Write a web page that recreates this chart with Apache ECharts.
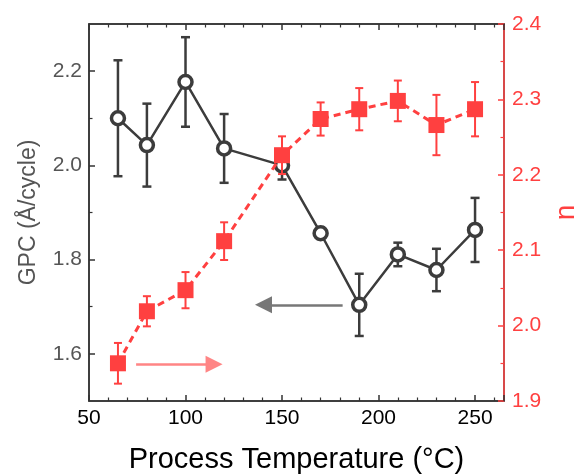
<!DOCTYPE html>
<html><head><meta charset="utf-8">
<script src="https://cdn.jsdelivr.net/npm/echarts@6/dist/echarts.min.js"></script>
<style>html,body{margin:0;padding:0;background:#fff}#c{width:574px;height:474px}</style>
</head><body><div id="c"></div>
<script>
const temps = [65, 80, 100, 120, 150, 170, 190, 210, 230, 250];
const gpc = [2.100, 2.043, 2.177, 2.036, 2.000, 1.856, 1.704, 1.811, 1.778, 1.863];
const gpcErr = [0.123, 0.088, 0.095, 0.073, 0.030, 0.012, 0.066, 0.025, 0.045, 0.068];
const nVals = [1.950, 2.019, 2.047, 2.112, 2.226, 2.274, 2.287, 2.298, 2.266, 2.287];
const nErr = [0.027, 0.020, 0.024, 0.025, 0.025, 0.022, 0.028, 0.027, 0.040, 0.036];
const xTicks = [50, 100, 150, 200, 250];
const gpcTicks = [1.6, 1.8, 2.0, 2.2];
const nTicks = [1.9, 2.0, 2.1, 2.2, 2.3, 2.4];
const grayArrow = [[181.4, 1.704], [140.4, 1.704]];
const pinkArrow = [[74.4, 1.578], [114.8, 1.578]];

const FONT = 'Liberation Sans';
const BLACK = '#3c3c3c';
const RED = '#ff4040';
const AX = '#333';

const BOX = { left: 89, right: 70, top: 24, bottom: 73 };
const GPC_MIN = 1.5, GPC_MAX = 2.3;
const pxPerGpc = (474 - BOX.top - BOX.bottom) / (GPC_MAX - GPC_MIN);

function errRender(color, lw, half) {
  return function (params, api) {
    const x = api.value(0), lo = api.value(1), hi = api.value(2);
    const a = api.coord([x, lo]), b = api.coord([x, hi]);
    const st = { stroke: color, lineWidth: lw, fill: null };
    return { type: 'group', children: [
      { type: 'line', shape: { x1: a[0], y1: a[1], x2: b[0], y2: b[1] }, style: st },
      { type: 'line', shape: { x1: a[0] - half, y1: a[1], x2: a[0] + half, y2: a[1] }, style: st },
      { type: 'line', shape: { x1: b[0] - half, y1: b[1], x2: b[0] + half, y2: b[1] }, style: st }
    ]};
  };
}

const major = c => ({ show: true, inside: true, length: 6, lineStyle: { color: c, width: 1.5 } });
const minor = (c, n) => ({ show: true, splitNumber: n, length: 3.5, lineStyle: { color: c, width: 1.2 } });

const chart = echarts.init(document.getElementById('c'), null, { renderer: 'canvas' });
chart.setOption({
  animation: false,
  backgroundColor: '#fff',
  textStyle: { fontFamily: FONT },
  grid: [
    Object.assign({ containLabel: false, outerBoundsMode: 'none', show: true, borderColor: AX, borderWidth: 1.5, backgroundColor: 'transparent' }, BOX),
    { left: BOX.left, right: BOX.right, containLabel: false, outerBoundsMode: 'none',
      top: BOX.top + (GPC_MAX - gpcTicks[gpcTicks.length - 1]) * pxPerGpc,
      bottom: BOX.bottom + (gpcTicks[0] - GPC_MIN) * pxPerGpc }
  ],
  xAxis: [
    {
      type: 'value', gridIndex: 0, position: 'bottom', min: 50, max: 265, interval: 50,
      splitLine: { show: false },
      name: 'Process Temperature (°C)', nameLocation: 'middle', nameGap: 44,
      nameTextStyle: { fontFamily: FONT, fontSize: 29, color: '#000' },
      axisLine: { show: true, onZero: false, lineStyle: { color: AX, width: 1.5 } },
      axisTick: major(AX), minorTick: minor(AX, 5),
      axisLabel: { show: true, customValues: xTicks, fontFamily: FONT, fontSize: 21, color: '#000', margin: 7 }
    },
    {
      type: 'value', gridIndex: 0, position: 'top', min: 50, max: 265, interval: 50,
      splitLine: { show: false },
      axisLine: { show: true, onZero: false, lineStyle: { color: AX, width: 1.5 } },
      axisTick: major(AX), minorTick: minor(AX, 5),
      axisLabel: { show: false }
    },
    { type: 'value', gridIndex: 1, min: 50, max: 265, show: false }
  ],
  yAxis: [
    {
      type: 'value', gridIndex: 0, position: 'left', min: GPC_MIN, max: GPC_MAX,
      splitLine: { show: false },
      name: 'GPC (Å/cycle)', nameLocation: 'middle', nameGap: 49, nameRotate: 90,
      nameTextStyle: { fontFamily: FONT, fontSize: 23, color: '#555' },
      axisLine: { show: true, onZero: false, lineStyle: { color: AX, width: 1.5 } },
      axisTick: { show: false },
      axisLabel: { show: true, customValues: gpcTicks, fontFamily: FONT, fontSize: 21, color: '#555', margin: 7,
        formatter: v => v.toFixed(1) }
    },
    {
      type: 'value', gridIndex: 0, position: 'right', min: 1.9, max: 2.4, interval: 0.1,
      splitLine: { show: false },
      name: 'n', nameLocation: 'middle', nameGap: 46, nameRotate: 90,
      nameTextStyle: { fontFamily: FONT, fontSize: 28, color: RED },
      axisLine: { show: true, onZero: false, lineStyle: { color: RED, width: 1.5 } },
      axisTick: major(RED), minorTick: minor(RED, 2),
      axisLabel: { show: true, customValues: nTicks, fontFamily: FONT, fontSize: 21, color: RED, margin: 8,
        formatter: v => v.toFixed(1) }
    },
    {
      type: 'value', gridIndex: 1, position: 'left',
      min: gpcTicks[0], max: gpcTicks[gpcTicks.length - 1], interval: 0.2,
      splitLine: { show: false },
      axisLine: { show: false, onZero: false },
      axisTick: major(AX), minorTick: minor(AX, 2),
      axisLabel: { show: false }
    }
  ],
  series: [
    {
      type: 'custom', name: 'gpcErr', xAxisIndex: 0, yAxisIndex: 0, z: 2,
      renderItem: errRender(BLACK, 2.5, 4.5),
      encode: { x: 0, y: [1, 2] },
      data: temps.map((t, i) => [t, gpc[i] - gpcErr[i], gpc[i] + gpcErr[i]])
    },
    {
      type: 'line', name: 'GPC', xAxisIndex: 0, yAxisIndex: 0, z: 3,
      data: temps.map((t, i) => [t, gpc[i]]),
      symbol: 'circle', symbolSize: 13,
      itemStyle: { color: '#fff', borderColor: BLACK, borderWidth: 3.5 },
      lineStyle: { color: BLACK, width: 2.5 },
      markLine: {
        silent: true, symbol: ['none', 'triangle'], symbolSize: [17, 17], label: { show: false },
        emphasis: { disabled: true },
        data: [
          [{ coord: grayArrow[0], lineStyle: { color: '#777', width: 2.5, type: 'solid' }, itemStyle: { color: '#777' } },
           { coord: grayArrow[1] }],
          [{ coord: pinkArrow[0], lineStyle: { color: '#ff8585', width: 2.5, type: 'solid' }, itemStyle: { color: '#ff8585' } },
           { coord: pinkArrow[1] }]
        ]
      }
    },
    {
      type: 'custom', name: 'nErr', xAxisIndex: 0, yAxisIndex: 1, z: 4,
      renderItem: errRender(RED, 2, 4),
      encode: { x: 0, y: [1, 2] },
      data: temps.map((t, i) => [t, nVals[i] - nErr[i], nVals[i] + nErr[i]])
    },
    {
      type: 'line', name: 'n', xAxisIndex: 0, yAxisIndex: 1, z: 5,
      data: temps.map((t, i) => [t, nVals[i]]),
      symbol: 'rect', symbolSize: 16,
      itemStyle: { color: RED },
      lineStyle: { color: RED, width: 3, type: [7, 5] }
    }
  ]
});
</script>
</body></html>
